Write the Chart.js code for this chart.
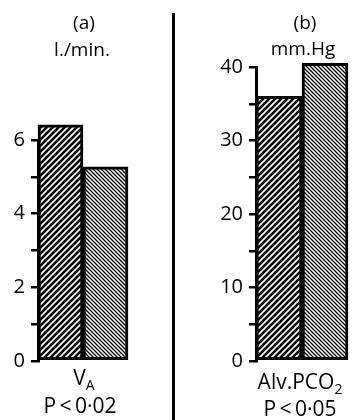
<!DOCTYPE html>
<html>
<head>
<meta charset="utf-8">
<script src="https://cdn.jsdelivr.net/npm/chart.js@4"></script>
<style>
  html, body { margin: 0; padding: 0; background: #fff; }
  #wrap { position: relative; width: 353px; height: 420px; overflow: hidden; font-family: 'Open Sans', sans-serif; color: #000; }
  canvas { position: absolute; top: 0; }
  #cv-a { left: 0; }
  #cv-b { left: 176px; }
  .txt { position: absolute; transform: translateX(-50%); white-space: nowrap; font-size: 19px; line-height: 1; }
  .big { font-size: 21px; }
  .txt sub { font-size: 14px; vertical-align: -5px; }
  #divider { position: absolute; left: 172px; top: 13px; width: 3px; height: 407px; background: #000; }
</style>
</head>
<body>
<div id="wrap">
  <canvas id="cv-a" width="172" height="420"></canvas>
  <canvas id="cv-b" width="177" height="420"></canvas>
  <div id="divider"></div>
  <div class="txt" style="left:84px;top:13px;">(a)</div>
  <div class="txt" style="left:82px;top:40px;">l./min.</div>
  <div class="txt" style="left:305px;top:13px;">(b)</div>
  <div class="txt" style="left:303px;top:39px;">mm.Hg</div>
  <div class="txt big" style="left:84px;top:367px;">V<sub>A</sub></div>
  <div class="txt big" style="left:80px;top:395px;">P&thinsp;&lt;&thinsp;0·02</div>
  <div class="txt big" style="left:300px;top:371px;">Alv.PCO<sub>2</sub></div>
  <div class="txt big" style="left:300px;top:398px;">P&thinsp;&lt;&thinsp;0·05</div>
</div>
<script>
// two conditions compared in each panel (left bar coarse hatch, right bar fine hatch)
const conditions = ['Condition 1', 'Condition 2'];
const ventilation = [6.41, 5.27];   // (a) V_A, l./min.
const alvPco2 = [36.0, 40.5];       // (b) Alv. PCO2, mm.Hg
const ventTickLabels = [0, 2, 4, 6];
const pco2TickLabels = [0, 10, 20, 30, 40];

function hatch(size, width, forward) {
  const c = document.createElement('canvas');
  c.width = size; c.height = size;
  const g = c.getContext('2d');
  g.fillStyle = '#fff';
  g.fillRect(0, 0, size, size);
  g.strokeStyle = '#000';
  g.lineWidth = width;
  g.beginPath();
  if (forward) {
    g.moveTo(-1, size + 1); g.lineTo(size + 1, -1);
    g.moveTo(-1, 1); g.lineTo(1, -1);
    g.moveTo(size - 1, size + 1); g.lineTo(size + 1, size - 1);
  } else {
    g.moveTo(-1, -1); g.lineTo(size + 1, size + 1);
    g.moveTo(size - 1, -1); g.lineTo(size + 1, 1);
    g.moveTo(-1, size - 1); g.lineTo(1, size + 1);
  }
  g.stroke();
  return g.createPattern(c, 'repeat');
}

const coarse = hatch(6, 2.6, true);
const fine = hatch(4, 1.3, false);

function makeChart(canvas, values, max, step, labels, axisWidth, pad) {
  return new Chart(canvas, {
    type: 'bar',
    data: {
      labels: conditions,
      datasets: [{
        data: values,
        backgroundColor: [coarse, fine],
        borderColor: '#000',
        borderWidth: 3,
        borderSkipped: false,
        categoryPercentage: 1,
        barPercentage: 1,
        clip: false,
      }]
    },
    options: {
      responsive: false,
      animation: false,
      devicePixelRatio: 1,
      layout: { padding: pad },
      plugins: { legend: { display: false }, tooltip: { enabled: false } },
      scales: {
        x: { display: false },
        y: {
          min: 0, max: max,
          afterFit: s => { s.width = axisWidth; },
          border: { display: true, color: '#000', width: 3 },
          grid: { drawOnChartArea: false, drawTicks: true, tickLength: 7, color: '#000', lineWidth: 2.5 },
          ticks: {
            stepSize: step,
            padding: 6,
            color: '#000',
            font: { family: 'Open Sans', size: 20 },
            callback: v => labels.includes(v) ? String(v) : ''
          }
        }
      }
    }
  });
}

makeChart(document.getElementById('cv-a'), ventilation, 6, 1, ventTickLabels, 38, { top: 140, right: 44, bottom: 59, left: 0 });
makeChart(document.getElementById('cv-b'), alvPco2, 40, 5, pco2TickLabels, 80, { top: 67, right: 5, bottom: 59, left: 0 });
</script>
</body>
</html>
